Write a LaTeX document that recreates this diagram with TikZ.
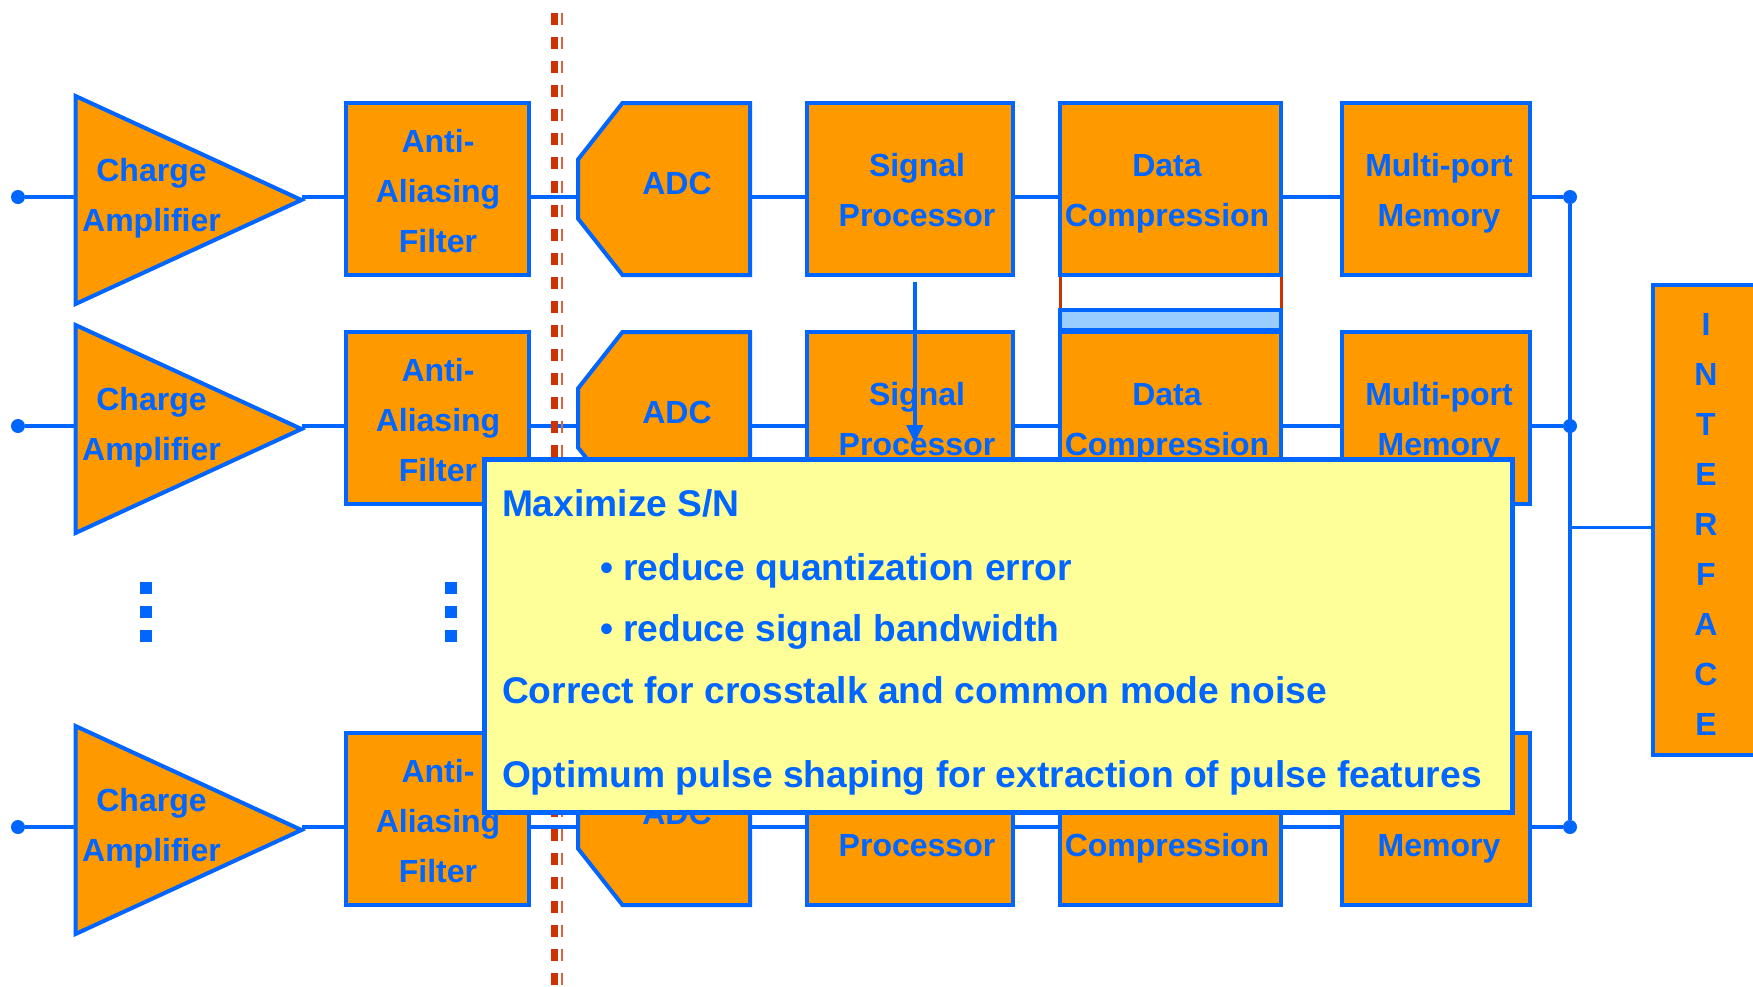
\documentclass[tikz,border=0pt]{standalone}
\usepackage{fontspec}
\setmainfont{Liberation Sans}
\usetikzlibrary{shapes.geometric,arrows.meta,calc}
\definecolor{cBlue}{RGB}{0,102,255}
\definecolor{cOrange}{RGB}{255,153,0}
\definecolor{cYellow}{RGB}{255,255,153}
\definecolor{cLight}{RGB}{153,204,255}
\definecolor{cRed}{RGB}{204,51,0}
\begin{document}
\begin{tikzpicture}[x=1pt,y=-1pt,
  conn/.style={draw=cBlue,line width=3.5pt},
  blk/.style={rectangle,draw=cBlue,fill=cOrange,line width=4pt,inner sep=0pt,outer sep=0pt},
  blkpath/.style={draw=cBlue,fill=cOrange,line width=4pt,line join=miter},
  amp/.style={isosceles triangle,isosceles triangle stretches,shape border rotate=0,
    draw=cBlue,fill=cOrange,line width=4pt,inner sep=0pt,outer sep=0pt,
    minimum width=208pt,minimum height=226pt},
  blktxt/.style={text=cBlue,font=\bfseries\fontsize{32}{50}\selectfont,align=center,inner sep=0pt,outer sep=0pt},
  ctxt/.style={text=cBlue,font=\bfseries\fontsize{37.2}{44}\selectfont,inner sep=0pt,outer sep=0pt,anchor=base west},
  dot/.style={circle,fill=cBlue,minimum size=14pt,inner sep=0pt,outer sep=0pt},
  sq/.style={rectangle,fill=cBlue,minimum width=12pt,minimum height=12pt,inner sep=0pt,outer sep=0pt},
  arr/.style={draw=cBlue,line width=4pt,-{Triangle[length=18pt,width=16pt]}}]
\useasboundingbox (0,0) rectangle (1753,986);
\fill[white] (0,0) rectangle (1753,986);

% interface box
\node[blk,anchor=north west,minimum width=120pt,minimum height=470pt] (iface) at (1653,285) {};

% rows
\foreach \r/\L in {1/197,2/426,3/827}{
  \coordinate (row\r) at (0,\L);
  \node[dot] (in\r) at (18,\L) {};
  \node[dot] (bus\r) at (1570,\L) {};
  \node[amp,anchor=west] (amp\r) at (75.5,{\L+3}) {};
  \node[blk,minimum width=183pt,minimum height=172pt] (aaf\r) at (437.5,{\L-8}) {};
  \node[blk,draw=none,fill=none,minimum width=172pt,minimum height=172pt] (adc\r) at (664,{\L-8}) {};
  \draw[blkpath] ($(adc\r.north west)+(44.5,0)$) -- (adc\r.north east) -- (adc\r.south east)
     -- ($(adc\r.south west)+(44.5,0)$) -- ($(adc\r.west)+(0,29.5)$) -- ($(adc\r.west)+(0,-29.5)$) -- cycle;
  \node[blk,minimum width=205.5pt,minimum height=172pt] (sp\r) at (909.75,{\L-8}) {};
  \node[blk,minimum width=221pt,minimum height=172pt] (dc\r) at (1170.5,{\L-8}) {};
  \node[blk,minimum width=188pt,minimum height=172pt] (mm\r) at (1436,{\L-8}) {};
  \node[blktxt] (ampt\r) at (151.5,{\L+1}) {Charge\\Amplifier};
  \node[blktxt] (aaft\r) at (438,{\L-6}) {Anti-\\Aliasing\\Filter};
  \node[blktxt] (adct\r) at (677,{\L-13.5}) {ADC};
  \node[blktxt] (spt\r) at (917,{\L-7}) {Signal\\Processor};
  \node[blktxt] (dct\r) at (1167,{\L-3.5}) {Data\\Compression};
  \node[blktxt] (mmt\r) at (1439,{\L-3.5}) {Multi-port\\Memory};
  \draw[conn] (in\r) -- (row\r -| amp\r.west);
  \draw[conn] (row\r -| amp\r.apex) -- (row\r -| aaf\r.west);
  \draw[conn] (row\r -| aaf\r.east) -- (row\r -| adc\r.west);
  \draw[conn] (row\r -| adc\r.east) -- (row\r -| sp\r.west);
  \draw[conn] (row\r -| sp\r.east) -- (row\r -| dc\r.west);
  \draw[conn] (row\r -| dc\r.east) -- (row\r -| mm\r.west);
  \draw[conn] (row\r -| mm\r.east) -- (bus\r);
}

% bus and interface
\draw[conn] (bus1) -- (bus3);
\coordinate (ifj) at (1570,527.5);
\draw[conn] (ifj) -- (ifj -| iface.west);
\node[blktxt] (ifacet) at (1706,524.5) {I\\N\\T\\E\\R\\F\\A\\C\\E};

% data compression link
\node[blk,fill=cLight,minimum width=221pt,minimum height=20pt] (bar) at (1170.5,320) {};
\draw[cRed,line width=3pt,shorten <=2pt,shorten >=2pt] (dc1.south west) -- (bar.north west);
\draw[cRed,line width=3pt,shorten <=2pt,shorten >=2pt] (dc1.south east) -- (bar.north east);

% vertical ellipses
\foreach \x/\i in {146/a,450.5/b}{
  \foreach \y/\j in {587.5/1,611.5/2,636/3}{
    \node[sq] (vd\i\j) at (\x,\y) {};
  }
}

% cut line
\coordinate (cutT) at (554.5,13);
\coordinate (cutB) at (554.5,995);
\draw[cRed,line width=7.6pt,dash pattern=on 12pt off 12pt] (cutT) -- (cutB);
\draw[cRed!75,line width=2pt,dash pattern=on 12pt off 12pt] ([xshift=7.2pt]cutT) -- ([xshift=7.2pt]cutB);

% arrow
\draw[arr] ([xshift=5pt,yshift=-7pt]sp1.south) -- ([xshift=5pt,yshift=-25pt]sp2.center);

% callout
\node[draw=cBlue,fill=cYellow,line width=4.5pt,minimum width=1028pt,minimum height=353pt,inner sep=0pt,outer sep=0pt] (note) at (998.5,636) {};
\node[ctxt] (n1) at (502,516) {Maximize S/N};
\node[ctxt] (n2) at (600,580) {• reduce quantization error};
\node[ctxt] (n3) at (600,641) {• reduce signal bandwidth};
\node[ctxt] (n4) at (502,703) {Correct for crosstalk and common mode noise};
\node[ctxt] (n5) at (502,787) {Optimum pulse shaping for extraction of pulse features};
\end{tikzpicture}
\end{document}
